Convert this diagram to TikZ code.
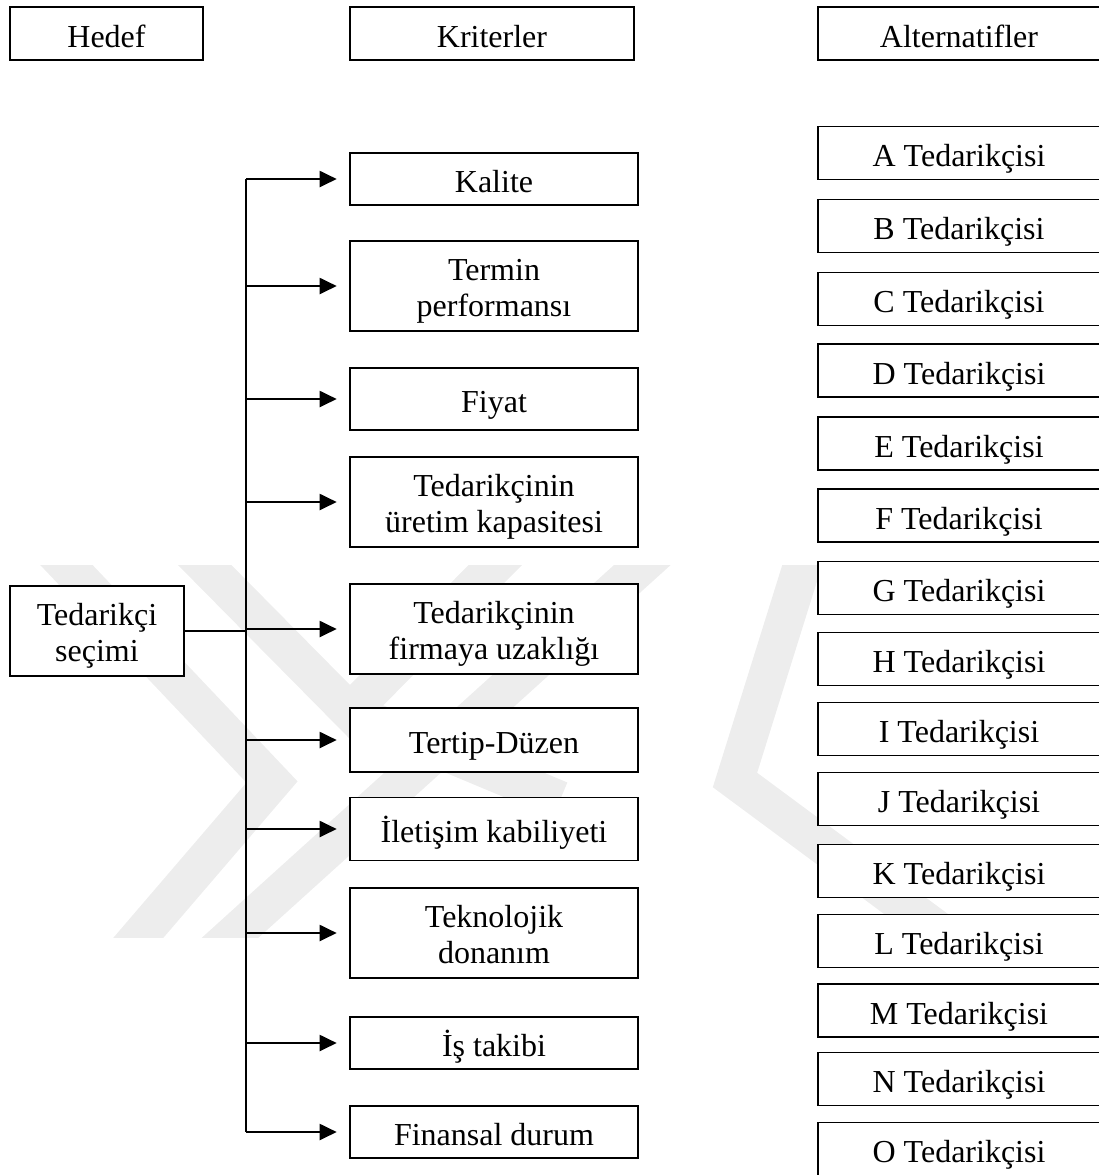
\documentclass[tikz,border=0pt]{standalone}
\usepackage{fontspec}
\setmainfont{Liberation Serif}
\usetikzlibrary{arrows.meta}
\newcommand{\ikisatir}[2]{\begin{tabular}{@{}c@{}}#1\\#2\end{tabular}}

\begin{document}
\begin{tikzpicture}[x=0.5pt,y=0.5pt,yscale=-1,
  box/.style={draw, fill=white, line width=0.7pt, inner sep=0pt, font=\fontsize{16}{18}\selectfont,
    execute at begin node={\rule{0pt}{18.2pt}}, execute at end node={\rule[-4.5pt]{0pt}{4.5pt}}},
  iki/.style={execute at begin node={\rule{0pt}{27.7pt}}},
  kbox/.style={box, minimum width=144pt},
  abox/.style={box, minimum width=141pt, minimum height=26.5pt},
  ok/.style={-{Triangle[length=8.5pt,width=8pt]}, line width=1pt, shorten >=6.3pt},
  iz/.style={line width=19pt, black!7, line join=miter}]
\useasboundingbox (0,0) rectangle (1099,1175);

%Watermark
\begin{scope}
\clip (0,565) rectangle (1099,937);
\draw [iz] (38,535) -- (272,782) -- (115,965) ;
\draw [iz] (175,535) -- (350,712) -- (520,540) ;
\draw [iz] (200,965) -- (670,540) ;
\draw [iz] (810,540) -- (735,780) -- (985,965) ;
\draw [iz] (350,712) -- (560,800) ;
\end{scope}

% Header Nodes
\node [box, minimum width=96.5pt, minimum height=26.5pt] (hedef) at (106.5,33.5) {Hedef};
\node [box, minimum width=142pt, minimum height=26.5pt] (kriter) at (492,33.5) {Kriterler};
\node [abox] (alter) at (959,33.5) {Alternatifler};

% Goal Node
\node [box, iki, minimum width=87pt, minimum height=45pt] (secim) at (97,631) {\ikisatir{Tedarikçi}{seçimi}};

% Criteria Nodes
\node [kbox, minimum height=26pt] (k1) at (494,179) {Kalite};
\node [kbox, iki, minimum height=45pt] (k2) at (494,286) {\ikisatir{Termin}{performansı}};
\node [kbox, minimum height=31pt] (k3) at (494,399) {Fiyat};
\node [kbox, iki, minimum height=45pt] (k4) at (494,502) {\ikisatir{Tedarikçinin}{üretim kapasitesi}};
\node [kbox, iki, minimum height=45pt] (k5) at (494,629) {\ikisatir{Tedarikçinin}{firmaya uzaklığı}};
\node [kbox, minimum height=32pt] (k6) at (494,740) {Tertip-Düzen};
\node [kbox, minimum height=31.5pt] (k7) at (494,829) {İletişim kabiliyeti};
\node [kbox, iki, minimum height=45pt] (k8) at (494,933) {\ikisatir{Teknolojik}{donanım}};
\node [kbox, minimum height=26pt] (k9) at (494,1043) {İş takibi};
\node [kbox, minimum height=26pt] (k10) at (494,1132) {Finansal durum};

% Alternative Nodes
\node [abox] (a1) at (959,153) {A Tedarikçisi};
\node [abox] (a2) at (959,225.8) {B Tedarikçisi};
\node [abox] (a3) at (959,299.2) {C Tedarikçisi};
\node [abox] (a4) at (959,370.5) {D Tedarikçisi};
\node [abox] (a5) at (959,443.5) {E Tedarikçisi};
\node [abox] (a6) at (959,515.5) {F Tedarikçisi};
\node [abox] (a7) at (959,588.2) {G Tedarikçisi};
\node [abox] (a8) at (959,659.2) {H Tedarikçisi};
\node [abox] (a9) at (959,729.2) {I Tedarikçisi};
\node [abox] (a10) at (959,798.8) {J Tedarikçisi};
\node [abox] (a11) at (959,870.8) {K Tedarikçisi};
\node [abox] (a12) at (959,940.8) {L Tedarikçisi};
\node [abox] (a13) at (959,1010.5) {M Tedarikçisi};
\node [abox] (a14) at (959,1079.2) {N Tedarikçisi};
\node [abox] (a15) at (959,1149.2) {O Tedarikçisi};

% Connectors
\coordinate (trunk) at (246,631);
\draw [line width=1pt] (secim.east) -- (trunk) ;
\draw [line width=1pt] (trunk |- k1) -- (trunk |- k10) ;
\draw [ok] (trunk |- k1) -- (k1.west) ;
\draw [ok] (trunk |- k2) -- (k2.west) ;
\draw [ok] (trunk |- k3) -- (k3.west) ;
\draw [ok] (trunk |- k4) -- (k4.west) ;
\draw [ok] (trunk |- k5) -- (k5.west) ;
\draw [ok] (trunk |- k6) -- (k6.west) ;
\draw [ok] (trunk |- k7) -- (k7.west) ;
\draw [ok] (trunk |- k8) -- (k8.west) ;
\draw [ok] (trunk |- k9) -- (k9.west) ;
\draw [ok] (trunk |- k10) -- (k10.west) ;

\end{tikzpicture}
\end{document}
